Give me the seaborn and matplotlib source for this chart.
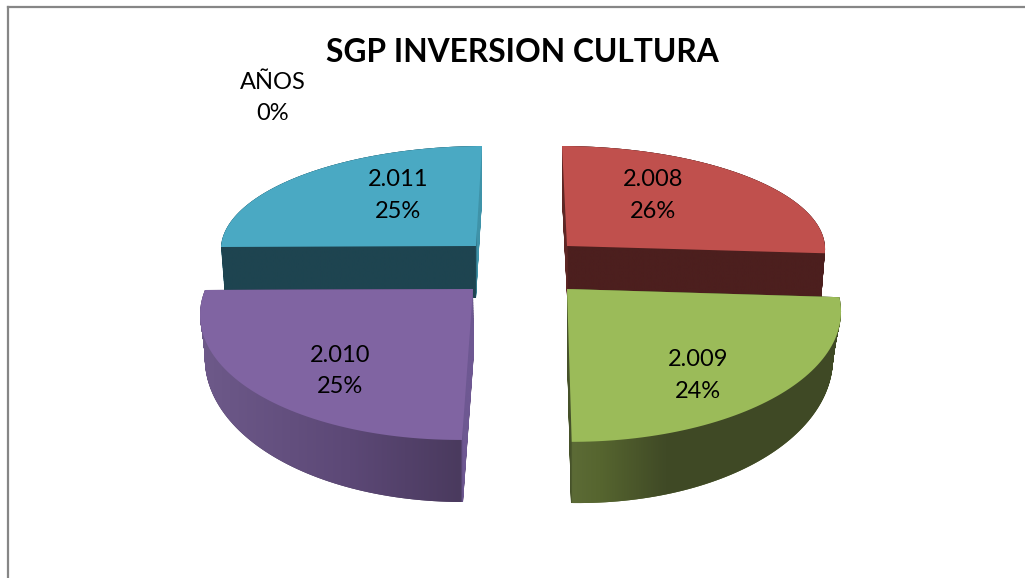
import numpy as np
import matplotlib
matplotlib.use("Agg")
import matplotlib.pyplot as plt
import seaborn as sns
from matplotlib.path import Path
from matplotlib.patches import PathPatch
from matplotlib.colors import LinearSegmentedColormap

# ---- data ----
categories = ["2.008", "2.009", "2.010", "2.011", "AÑOS"]
percent = [26, 24, 25, 25, 0]
title = "SGP INVERSION CULTURA"

# ---- style ----
top_colors = ["#C0504D", "#9BBB59", "#8064A2", "#4AA9C3"]
label_pos = [(653, 195.5), (698, 375.5), (340, 371), (398, 195.5), (273, 98)]
draw_z = [6, 40, 30, 2]

# Projection of each slice: apex, image of unit x, image of unit y, perspective
top_geom = [
    ((567, 246), (258, 1), (-5, -100), 0.0),
    ((567, 289), (270, 0), (-4, -129), 0.156),
    ((473, 289), (268, -1), (9.3, -127.4), 0.156),
    ((476, 246), (255, -1), (6, -100), 0.0),
]
bot_geom = [
    ((567, 296), (254, 1), (-5, -98), 0.0),
    ((567, 352), (266, 4), (-4, -151), 0.0),
    ((474, 352), (269, 0), (11, -150), 0.0),
    ((476, 298), (251, 0), (6, -98), 0.0),
]
# Horizontal shading of the side walls
wall_shades = [
    [(555, "#5E2725"), (567, "#5E2725"), (568, "#4C1F1E"), (830, "#4C1F1E")],
    [(560, "#46522A"), (571, "#46522A"), (572, "#5C6B36"), (600, "#56652F"), (665, "#404A26"), (845, "#3F4925")],
    [(198, "#6E5A8A"), (230, "#6A5686"), (350, "#5C4876"), (461, "#4A3A5E"), (463, "#6E5892"), (480, "#6E5892")],
    [(215, "#1E4450"), (476, "#1E4450"), (477, "#3F93A9"), (490, "#3F93A9")],
]
LAYERS = 40


def blend(g0, g1, t):
    apex = (1 - t) * np.array(g0[0]) + t * np.array(g1[0])
    ux = (1 - t) * np.array(g0[1]) + t * np.array(g1[1])
    uy = (1 - t) * np.array(g0[2]) + t * np.array(g1[2])
    p = (1 - t) * g0[3] + t * g1[3]
    return apex, ux, uy, p


def project(poly, geom):
    apex, ux, uy, p = geom
    u, v = poly[:, 0], poly[:, 1]
    w = 1 + p * v
    xy = np.outer(u, ux) + np.outer(v, uy)
    return Path(apex + xy / w[:, None])


sns.set_theme(style="white")
plt.rcParams["font.family"] = ["Lato", "DejaVu Sans"]

W, H, L, T = 1025, 578, 7.5, 6.5
fig = plt.figure(figsize=(W / 100, H / 100), dpi=100, facecolor="white")
ax = fig.add_axes([L / W, 0, 1 - L / W, 1 - T / H])

wedges, _ = ax.pie(percent, startangle=90, counterclock=False,
                   colors=sns.color_palette(top_colors + ["#FFFFFF"]))

for i, wedge in enumerate(wedges[:4]):
    # flatten the slice outline that pie computed
    big = wedge.get_path().deepcopy()
    big.vertices = big.vertices * 1000
    poly = big.to_polygons()[0] / 1000

    g0, g1 = top_geom[i], bot_geom[i]
    wall = Path.make_compound_path(
        *[project(poly, blend(g0, g1, t)) for t in np.linspace(0, 1, LAYERS)])

    z = draw_z[i]
    nodes = wall_shades[i]
    x0, x1 = nodes[0][0], nodes[-1][0]
    cmap = LinearSegmentedColormap.from_list(
        f"wall{i}", [((x - x0) / (x1 - x0), c) for x, c in nodes], N=512)
    ax.add_patch(PathPatch(wall, fc=nodes[len(nodes) // 2][1], ec="none", zorder=z))
    img = ax.imshow(np.linspace(0, 1, 512)[None, :], extent=(x0, x1, 520, 130),
                    cmap=cmap, aspect="auto", zorder=z + 1, interpolation="bilinear")
    img.set_clip_path(PathPatch(wall, transform=ax.transData))

    ax.add_patch(PathPatch(project(poly, blend(g0, g1, 0)),
                           fc=wedge.get_facecolor(), ec="none", zorder=z + 2))
    wedge.set_visible(False)

wedges[4].set_visible(False)

ax.set_aspect("auto")
ax.set_xlim(L, W)
ax.set_ylim(H, T)
ax.set_frame_on(True)
ax.set_axis_on()
ax.set_xticks([])
ax.set_yticks([])
for side, sp in ax.spines.items():
    sp.set_visible(side in ("left", "top"))
    sp.set_color("#868686")
    sp.set_linewidth(1.6)

for name, pct, (x, y) in zip(categories, percent, label_pos):
    ax.text(x, y, f"{name}\n{pct}%", ha="center", va="center", fontsize=17,
            color="black", linespacing=1.62, zorder=50)
ax.text(522, 53, title, ha="center", va="center", fontsize=22.9,
        fontweight="bold", color="black", zorder=50)

fig.savefig("out.png", dpi=100, facecolor="white")
